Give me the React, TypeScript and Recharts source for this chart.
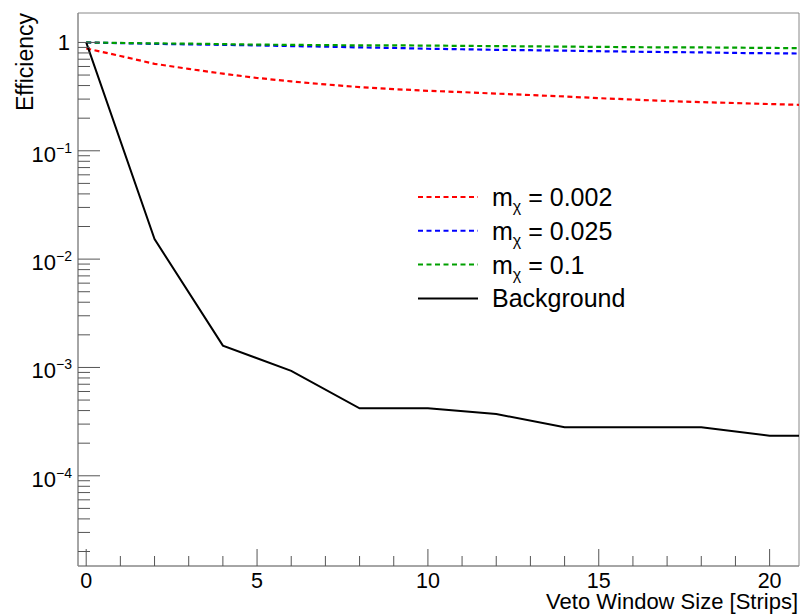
import React from "react";
import { LineChart, Line, XAxis, YAxis, Legend, ReferenceArea } from "recharts";

// veto window sizes [strips]
const windowSizes = [0, 1, 2, 3, 4, 5, 6, 7, 8, 9, 10, 11, 12, 13, 14, 15, 16, 17, 18, 19, 20, 21, 22];

// signal efficiencies, one value per strip (0..21)
const effM0002 = [0.88, 0.75, 0.635, 0.57, 0.515, 0.47, 0.437, 0.41, 0.387, 0.371, 0.358, 0.348, 0.337, 0.327, 0.317, 0.306, 0.297, 0.288, 0.281, 0.276, 0.27, 0.265];
const effM0025 = [1.0, 0.985, 0.97, 0.96, 0.95, 0.94, 0.925, 0.915, 0.9, 0.89, 0.875, 0.865, 0.855, 0.848, 0.84, 0.83, 0.822, 0.815, 0.81, 0.8, 0.795, 0.79];
const effM01 = [1.0, 0.99, 0.98, 0.975, 0.965, 0.955, 0.95, 0.945, 0.94, 0.94, 0.935, 0.93, 0.925, 0.92, 0.915, 0.91, 0.905, 0.9, 0.9, 0.895, 0.89, 0.885];

// background, every second strip
const bkgWindowSizes = [0, 2, 4, 6, 8, 10, 12, 14, 16, 18, 20, 22];
const effBkg = [1.0, 0.0153, 1.59e-3, 9.3e-4, 4.2e-4, 4.2e-4, 3.72e-4, 2.8e-4, 2.8e-4, 2.8e-4, 2.34e-4, 2.34e-4];

const xTicks = [0, 1, 2, 3, 4, 5, 6, 7, 8, 9, 10, 11, 12, 13, 14, 15, 16, 17, 18, 19, 20];
const yMajor = [1e-4, 1e-3, 1e-2, 1e-1, 1];

const X_MIN = -0.24;
const X_MAX = 20.86;
const Y_MIN = 1.47e-5;
const Y_MAX = 1.87;

const FONT = "'Liberation Sans', Arial, Helvetica, sans-serif";

const yTicks: number[] = [];
for (let e = -5; e <= 0; e++) {
  for (let k = 1; k <= 9; k++) {
    const v = k * Math.pow(10, e);
    if (v >= Y_MIN && v <= Y_MAX) yTicks.push(Number(v.toPrecision(3)));
  }
}

const data = windowSizes.map((x, i) => {
  const b = bkgWindowSizes.indexOf(x);
  return {
    x,
    m0002: i < effM0002.length ? effM0002[i] : null,
    m0025: i < effM0025.length ? effM0025[i] : null,
    m01: i < effM01.length ? effM01[i] : null,
    bkg: b >= 0 ? effBkg[b] : null,
  };
});

const series = [
  { key: "m0002", mass: "0.002", color: "#ff0000", dash: "5 3.5" },
  { key: "m0025", mass: "0.025", color: "#0000ff", dash: "5 3.5" },
  { key: "m01", mass: "0.1", color: "#00a000", dash: "5 3.5" },
];

const YTick = (props: any) => {
  const { x, y, payload } = props;
  const v = payload.value;
  const isMajor = yMajor.some((m) => Math.abs(m - v) / m < 1e-6);
  const exp = Math.round(Math.log10(v));
  return (
    <g>
      <line x1={x} x2={x + (isMajor ? 22 : 12)} y1={y} y2={y} stroke="#555" />
      {isMajor && exp === 0 && (
        <text x={x - 8} y={y + 8} textAnchor="end" fontSize={22} fill="#000" fontFamily={FONT}>1</text>
      )}
      {isMajor && exp !== 0 && (
        <text x={x - 6} y={y + 11} textAnchor="end" fontSize={22} fill="#000" fontFamily={FONT}>
          10<tspan dy={-9} fontSize={14}>{"\u2212" + -exp}</tspan>
        </text>
      )}
    </g>
  );
};

const XTick = (props: any) => {
  const { x, y, payload } = props;
  const isMajor = payload.value % 5 === 0;
  return (
    <g>
      <line x1={x} x2={x} y1={y} y2={y - (isMajor ? 17 : 10)} stroke="#555" />
      {isMajor && (
        <text x={x} y={y + 22} textAnchor="middle" fontSize={21.5} fill="#000" fontFamily={FONT}>
          {payload.value}
        </text>
      )}
    </g>
  );
};

const LegendBox = () => {
  const rows = [
    ...series.map((s) => ({ color: s.color, dash: s.dash, mass: s.mass })),
    { color: "#000", dash: undefined as string | undefined, mass: "" },
  ];
  return (
    <svg width={260} height={140} style={{ display: "block" }}>
      {rows.map((r, i) => {
        const cy = 22 + i * 33.8;
        return (
          <g key={i}>
            <line x1={8} x2={68} y1={cy} y2={cy} stroke={r.color} strokeWidth={2} strokeDasharray={r.dash} />
            {r.mass ? (
              <text x={82} y={cy + 9} fontSize={25} fontFamily={FONT} fill="#000">
                m<tspan dy={6} fontSize={16}>{"\u03c7"}</tspan>
                <tspan dy={-6}>{" = " + r.mass}</tspan>
              </text>
            ) : (
              <text x={82} y={cy + 9} fontSize={25} fontFamily={FONT} fill="#000">Background</text>
            )}
          </g>
        );
      })}
    </svg>
  );
};

export default function App() {
  return (
    <div style={{ position: "absolute", left: 0, top: 0, width: 800, height: 614, overflow: "hidden", fontFamily: FONT }}>
      <LineChart width={800} height={614} data={data} margin={{ top: 13, right: 1, left: 0, bottom: 0 }}>
        <XAxis
          dataKey="x"
          type="number"
          domain={[X_MIN, X_MAX]}
          allowDataOverflow
          ticks={xTicks}
          interval={0}
          tickLine={false}
          tickSize={0}
          tickMargin={0}
          height={48}
          axisLine={{ stroke: "#888" }}
          tick={<XTick />}
          label={{
            content: () => (
              <text x={798} y={609} textAnchor="end" fontSize={22} fill="#000" fontFamily={FONT}>
                Veto Window Size [Strips]
              </text>
            ),
          }}
        />
        <YAxis
          type="number"
          scale="log"
          domain={[Y_MIN, Y_MAX]}
          allowDataOverflow
          ticks={yTicks}
          interval={0}
          tickLine={false}
          tickSize={0}
          tickMargin={0}
          width={78}
          axisLine={{ stroke: "#888" }}
          tick={<YTick />}
          label={{
            content: () => (
              <text transform="translate(33,13) rotate(-90)" textAnchor="end" fontSize={23} fill="#000" fontFamily={FONT}>
                Efficiency
              </text>
            ),
          }}
        />
        <ReferenceArea x1={X_MIN} x2={X_MAX} y1={Y_MIN} y2={Y_MAX} fill="none" stroke="#888" ifOverflow="visible" />
        {series.map((s) => (
          <Line
            key={s.key}
            dataKey={s.key}
            type="linear"
            stroke={s.color}
            strokeWidth={2.2}
            strokeDasharray={s.dash}
            dot={false}
            activeDot={false}
            connectNulls
            isAnimationActive={false}
          />
        ))}
        <Line
          dataKey="bkg"
          type="linear"
          stroke="#000"
          strokeWidth={2}
          dot={false}
          activeDot={false}
          connectNulls
          isAnimationActive={false}
        />
        <Legend
          layout="vertical"
          align="center"
          verticalAlign="middle"
          wrapperStyle={{ left: 410, top: 175, width: 260, height: 140 }}
          content={() => <LegendBox />}
        />
      </LineChart>
    </div>
  );
}
